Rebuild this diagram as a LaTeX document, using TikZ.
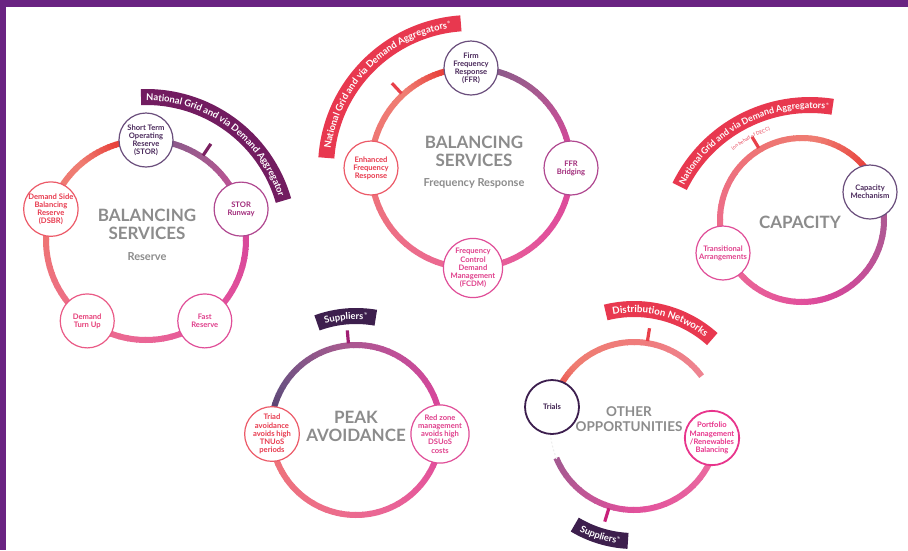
\documentclass[tikz,border=0pt]{standalone}
\usepackage{fontspec}
\setmainfont{Lato}
\usetikzlibrary{decorations.text}
\definecolor{frame}{HTML}{6A2382}
\definecolor{tgrey}{HTML}{8C8C8C}
% ring gradient stops
\definecolor{g1}{HTML}{7D5A88}
\definecolor{g2}{HTML}{A65A8F}
\definecolor{g2b}{HTML}{B85596}
\definecolor{g3}{HTML}{D6479A}
\definecolor{g4}{HTML}{E2509C}
\definecolor{g5}{HTML}{EA6696}
\definecolor{g6}{HTML}{ED6F86}
\definecolor{g7}{HTML}{EE7474}
\definecolor{g8}{HTML}{EF7D72}
\definecolor{g9}{HTML}{E8423C}
\definecolor{p0}{HTML}{4A3060}
\definecolor{p1}{HTML}{6C5282}
\definecolor{p2}{HTML}{C04E98}
\definecolor{h1}{HTML}{EF7C7C}
\definecolor{h2}{HTML}{EE8492}
\definecolor{h3}{HTML}{EC70A0}
\definecolor{h4}{HTML}{A25A90}
% banners
\definecolor{bpurple}{HTML}{721C60}
\definecolor{bred}{HTML}{E8384F}
\definecolor{bdark}{HTML}{3D1F4D}
\definecolor{tickpurple}{HTML}{7A2060}
\definecolor{tickred}{HTML}{E8404A}
\definecolor{tickmag}{HTML}{A01E72}
\definecolor{tickpink}{HTML}{C8207A}
% node colours
\definecolor{dpS}{HTML}{6A4E7C}\definecolor{dpT}{HTML}{4B2A5C}
\definecolor{mvS}{HTML}{B04890}\definecolor{mvT}{HTML}{A02A7A}
\definecolor{mgS}{HTML}{E04E98}\definecolor{mgT}{HTML}{E0408C}
\definecolor{pkS}{HTML}{EA5A86}\definecolor{pkT}{HTML}{E63E78}
\definecolor{rdS}{HTML}{EC5A68}\definecolor{rdT}{HTML}{E83A4E}
\definecolor{trS}{HTML}{3C1E4E}
\definecolor{pfS}{HTML}{E8358C}
\definecolor{decc}{HTML}{E84055}

\newcommand\gseg[7]{%
  \foreach \k in {1,...,10}{%
    \pgfmathsetmacro\sa{#4+(#5-#4)*(\k-1)/10}%
    \pgfmathsetmacro\ea{#4+(#5-#4)*\k/10+0.6*sign(#5-#4)}%
    \pgfmathsetmacro\pp{100-(\k-0.5)*10}%
    \draw[ringline, draw=#6!\pp!#7] ({#1+#3*cos(\sa)},{#2+#3*sin(\sa)}) arc[start angle=\sa, end angle=\ea, radius=#3];
  }}
\newcommand\gring[4]{%
  \foreach \aA/\aB/\cA/\cB in {#4}{\gseg{#1}{#2}{#3}{\aA}{\aB}{\cA}{\cB}}}
\newcommand\bnfs[1]{\color{white}\fontsize{#1}{#1}\selectfont\bfseries}
\newcommand\supast{{\color{white}$^{*}$}}

\tikzset{
  ringline/.style={line width=6pt, line cap=butt},
  banner/.style={line width=16pt, line cap=butt},
  tickline/.style={line width=3.2pt, line cap=butt},
  svc/.style={circle, fill=white, line width=1.2pt, minimum size=54pt, inner sep=0pt,
    align=center, font=\fontsize{7.6}{8.1}\selectfont\bfseries},
  title/.style={text=tgrey, align=center, inner sep=0pt, font=\fontsize{17}{18}\selectfont\bfseries},
  subtitle/.style={text=tgrey, inner sep=0pt, font=\fontsize{11}{12}\selectfont\bfseries},
}

\begin{document}
\begin{tikzpicture}[x=1pt,y=-1pt]
\useasboundingbox (0,0) rectangle (908,550);
\fill[white] (0,0) rectangle (908,550);
\fill[frame] (0,0) rectangle (908,7);
\fill[frame] (0,0) rectangle (6,550);

% ---------------- Ring 1: Reserve ----------------
\gring{146}{240}{100}{270/310/g1/g2, 310/350/g2/g3, 350/400/g3/g4, 400/450/g4/g5, 450/500/g5/g6, 500/540/g6/g7, 540/590/g7/g8, 590/612/g8/g9, 612/630/g9/g9}
\draw[banner, draw=bpurple] ({146+143*cos(268)},{240+143*sin(268)}) arc[start angle=268, end angle=344, radius=143];
\path[decorate, decoration={text along path, text align=center,
  text={|\bnfs{9.4}|National Grid and via Demand Aggregator}}]
  ({146+139.5*cos(267)},{240+139.5*sin(267)}) arc[start angle=267, end angle=345, radius=139.5];
\coordinate (k1a) at ({146+102*cos(304)},{240+102*sin(304)});
\coordinate (k1b) at ({146+116*cos(304)},{240+116*sin(304)});
\draw[tickline, draw=tickpurple] (k1a) -- (k1b);

\node[svc, draw=dpS, text=dpT] (stor) at ({146+100*cos(270)},{240+100*sin(270)}) {Short Term\\Operating\\Reserve\\(STOR)};
\node[svc, draw=mvS, text=mvT] (runway) at ({146+100*cos(342)},{240+100*sin(342)}) {STOR\\Runway};
\node[svc, draw=mgS, text=mgT] (fast) at ({146+100*cos(54)},{240+100*sin(54)}) {Fast\\Reserve};
\node[svc, draw=pkS, text=pkT] (turnup) at ({146+100*cos(126)},{240+100*sin(126)}) {Demand\\Turn Up};
\node[svc, draw=rdS, text=rdT] (dsbr) at ({146+100*cos(198)},{240+100*sin(198)}) {Demand Side\\Balancing\\Reserve\\(DSBR)};
\node[title] (t1) at (147,224) {BALANCING\\SERVICES};
\node[subtitle] (s1) at (147,257) {Reserve};

% ---------------- Ring 2: Frequency Response ----------------
\gring{471}{168}{100}{270/310/g1/g2, 310/350/g2/g3, 350/400/g3/g4, 400/450/g4/g5, 450/500/g5/g6, 500/540/g6/g7, 540/590/g7/g8, 590/612/g8/g9, 612/630/g9/g9}
\draw[banner, draw=bred] ({471+145*cos(184)},{168+145*sin(184)}) arc[start angle=184, end angle=266, radius=145];
\path[decorate, decoration={text along path, text align=center,
  text={|\bnfs{9.4}|National Grid and via Demand Aggregators\supast}}]
  ({471+141.5*cos(183)},{168+141.5*sin(183)}) arc[start angle=183, end angle=267, radius=141.5];
\coordinate (k2a) at ({471+102*cos(227)},{168+102*sin(227)});
\coordinate (k2b) at ({471+116*cos(227)},{168+116*sin(227)});
\draw[tickline, draw=tickred] (k2a) -- (k2b);

\node[svc, draw=dpS, text=dpT] (ffr) at (471,68) {Firm\\Frequency\\Response\\(FFR)};
\node[svc, draw=mvS, text=mvT] (bridging) at (571,168) {FFR\\Bridging};
\node[svc, draw=mgS, text=mgT] (fcdm) at (473,268) {Frequency\\Control\\Demand\\Management\\(FCDM)};
\node[svc, draw=rdS, text=rdT] (efr) at (371,168) {Enhanced\\Frequency\\Response};
\node[title] (t2) at (474,151) {BALANCING\\SERVICES};
\node[subtitle] (s2) at (474,183) {Frequency Response};

% ---------------- Ring 3: Capacity ----------------
\gring{802}{220}{82}{338/385/g2/g2b, 385/430/g2b/g3, 430/450/g3/g4, 450/500/g4/g5, 500/550/g5/g6, 550/600/g6/g7, 600/640/g7/g8, 640/680/g8/g9, 680/698/g9/g9}
\draw[banner, draw=bred] ({810+145*cos(206)},{250+145*sin(206)}) arc[start angle=206, end angle=279, radius=145];
\path[decorate, decoration={text along path, text align=center,
  text={|\bnfs{8.9}|National Grid and via Demand Aggregators\supast}}]
  ({810+141.5*cos(205)},{250+141.5*sin(205)}) arc[start angle=205, end angle=280, radius=141.5];
\path[decorate, decoration={text along path, text align=center,
  text={|\color{decc}\fontsize{4.8}{5}\selectfont|(on behalf of DECC)}}]
  ({810+126*cos(228)},{250+126*sin(228)}) arc[start angle=228, end angle=256, radius=126];
\coordinate (k3a) at ({802+84*cos(239)},{220+84*sin(239)});
\coordinate (k3b) at ({802+97*cos(239)},{220+97*sin(239)});
\draw[tickline, draw=tickred] (k3a) -- (k3b);

\node[svc, draw=dpS, text=dpT] (mech) at (870,192) {Capacity\\Mechanism};
\node[svc, draw=mgS, text=mgT] (trans) at (723,253) {Transitional\\Arrangements};
\node[title] (t3) at (800,222) {CAPACITY};

% ---------------- Ring 4: Peak avoidance ----------------
\gring{356}{430}{85}{180/210/p0/p1, 210/260/p1/g2, 260/300/g2/p2, 300/340/p2/g3, 340/380/g3/g4, 380/430/g4/g5, 430/480/g5/g6, 480/540/g6/g7}
\draw[banner, draw=bdark] ({356+114*cos(250)},{430+114*sin(250)}) arc[start angle=250, end angle=280, radius=114];
\path[decorate, decoration={text along path, text align=center,
  text={|\bnfs{9.4}|Suppliers\supast}}]
  ({356+110.5*cos(248)},{430+110.5*sin(248)}) arc[start angle=248, end angle=282, radius=110.5];
\coordinate (k4a) at ({356+87*cos(265)},{430+87*sin(265)});
\coordinate (k4b) at ({356+100*cos(265)},{430+100*sin(265)});
\draw[tickline, draw=tickmag] (k4a) -- (k4b);

\node[svc, draw=rdS, text=rdT] (triad) at (272,434) {Triad\\avoidance\\avoids high\\TNUoS\\periods};
\node[svc, draw=mgS, text=mgT] (redzone) at (440,434) {Red zone\\management\\avoids high\\DSUoS\\costs};
\node[title] (t4) at (356,426) {PEAK\\AVOIDANCE};

% ---------------- Ring 5: Other opportunities ----------------
\gring{634}{426}{84}{200/225/g9/g8, 225/275/g8/h1, 275/323/h1/h2}
\gring{634}{426}{84}{15/90/h3/g4, 90/157/g4/h4}
\draw[black!7, line width=1pt, dash pattern=on 2pt off 2pt] ({634+84*cos(157)},{426+84*sin(157)}) arc[start angle=157, end angle=182, radius=84];
\draw[banner, draw=bred] ({634+117*cos(256)},{426+117*sin(256)}) arc[start angle=256, end angle=312, radius=117];
\path[decorate, decoration={text along path, text align=center,
  text={|\bnfs{9.8}|Distribution Networks}}]
  ({634+113.5*cos(254)},{426+113.5*sin(254)}) arc[start angle=254, end angle=314, radius=113.5];
\draw[banner, draw=bdark] ({634+115*cos(121)},{426+115*sin(121)}) arc[start angle=121, end angle=93, radius=115];
\path[decorate, decoration={text along path, text align=center,
  text={|\bnfs{9.4}|Suppliers\supast}}]
  ({634+118.5*cos(123)},{426+118.5*sin(123)}) arc[start angle=123, end angle=91, radius=118.5];
\coordinate (k5a) at ({634+86*cos(279)},{426+86*sin(279)});
\coordinate (k5b) at ({634+99*cos(279)},{426+99*sin(279)});
\draw[tickline, draw=tickred] (k5a) -- (k5b);
\coordinate (k6a) at ({634+86*cos(107)},{426+86*sin(107)});
\coordinate (k6b) at ({634+100*cos(107)},{426+100*sin(107)});
\draw[tickline, draw=tickpink] (k6a) -- (k6b);

\node[svc, draw=trS, text=trS, line width=1.8pt] (trials) at (552,407) {Trials};
\node[svc, draw=pfS, text=pfS, line width=1.8pt] (portfolio) at (712,438) {Portfolio\\Management\\/Renewables\\Balancing};
\node[title, font=\fontsize{13.5}{15}\selectfont\bfseries] (t5) at (629,419) {OTHER\\OPPORTUNITIES};
\end{tikzpicture}
\end{document}
